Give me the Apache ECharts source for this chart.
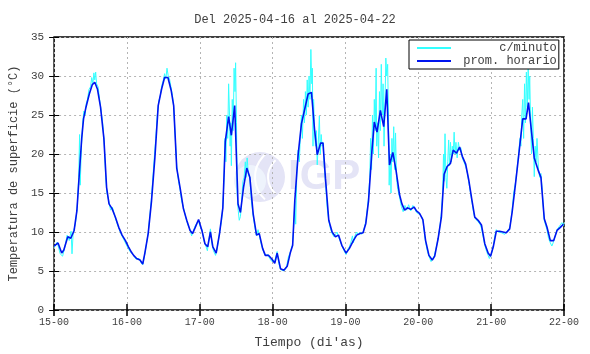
<!DOCTYPE html>
<html lang="es">
<head>
<meta charset="UTF-8">
<title>Temperatura de superficie</title>
<script src="https://cdn.jsdelivr.net/npm/echarts@6/dist/echarts.min.js"></script>
<style>
  html, body { margin: 0; padding: 0; background: #fff; }
  #chart { width: 590px; height: 354px; }
</style>
</head>
<body>
<div id="chart"></div>
<script type="text/javascript">
    // etiquetas del eje x (cada 24 h)
    var diasLabels = ['15-00', '16-00', '17-00', '18-00', '19-00', '20-00', '21-00', '22-00'];
    var yTicks = [0, 5, 10, 15, 20, 25, 30, 35];

    // promedio horario: [hora desde 15-00, temperatura]
    var promHorario = [
        [0, 8.2], [1.3, 8.6], [2.5, 7.3], [3.2, 7.7], [4.5, 9.4], [5.5, 9.2], [6.6, 10.2], [7.5, 12.7],
        [8.3, 17.4], [9.1, 22], [9.7, 24.5], [10.5, 26], [11.6, 27.7], [12.6, 28.9], [13.4, 29.2], [14.3, 28.3],
        [15.3, 26], [16.4, 22], [17.3, 15.7], [18.1, 13.6], [19.1, 13], [20.2, 11.9], [21.3, 10.6], [22.4, 9.6],
        [23.5, 8.9], [24.5, 8.1], [25.5, 7.4], [26.2, 7.0], [27.2, 6.6], [28.3, 6.4], [29.2, 5.9], [29.9, 7.3],
        [31, 9.8], [32.1, 14], [33.2, 19.5], [34.3, 26.2], [35.4, 28.3], [36.4, 29.8], [37.5, 29.8], [38.6, 28.1],
        [39.4, 26.2], [40.4, 18.2], [41.5, 15.7], [42.6, 13], [43.7, 11.5], [44.8, 10.2], [45.6, 9.8], [46.5, 10.6],
        [47.6, 11.6], [48.7, 10.2], [49.7, 8.5], [50.6, 8.1], [51.5, 10], [52.3, 8.1], [53.4, 7.3], [54.5, 9.8],
        [55.6, 13.1], [56.4, 21.6], [57.5, 24.8], [58.4, 22.4], [59.5, 26.2], [60.6, 13.6], [61.4, 12.5], [62.4, 15.7],
        [63.5, 18.2], [64.5, 17], [65.6, 12.3], [66.7, 9.6], [67.6, 9.8], [68.7, 7.9], [69.6, 7.0], [70.7, 7.0],
        [71.8, 6.5], [72.7, 6.0], [73.5, 7.3], [74.6, 5.3], [75.7, 5.1], [76.8, 5.6], [77.8, 7.3], [78.6, 8.3],
        [79.3, 14], [80.4, 19.9], [81.5, 23.9], [82.6, 25.8], [83.7, 27.7], [84.8, 27.9], [85.8, 23.2], [86.7, 19.9],
        [87.8, 21.4], [88.6, 21.4], [89.4, 16.9], [90.5, 11.5], [91.6, 10], [92.7, 9.4], [93.7, 9.6], [94.8, 8.3],
        [96.2, 7.3], [97.3, 7.9], [98.6, 8.9], [99.7, 9.6], [100.8, 9.8], [101.8, 9.9], [102.7, 11.1], [103.6, 14],
        [104.7, 20.3], [105.5, 24.1], [106.4, 22.8], [107.5, 25.6], [108.6, 23.5], [109.6, 28.3], [110.5, 18.6], [111.6, 20.2],
        [112.7, 17.8], [113.8, 14.8], [114.6, 13.6], [115.5, 12.8], [116.4, 13.1], [117.5, 12.9], [118.6, 13.2], [119.4, 12.7],
        [120.4, 12.4], [121.5, 11.6], [122.4, 8.9], [123.5, 7.0], [124.6, 6.4], [125.4, 6.9], [126.5, 9.1], [127.6, 11.9],
        [128.5, 17.4], [129.5, 18.4], [130.6, 18.8], [131.5, 20.5], [132.6, 20.1], [133.6, 20.9], [134.5, 19.7], [135.6, 18.7],
        [136.6, 16.7], [137.7, 14], [138.6, 11.9], [139.7, 11.5], [140.8, 10.9], [141.9, 8.5], [143, 7.3], [143.8, 6.9],
        [144.7, 8.1], [145.7, 10.1], [146.8, 10.1], [147.9, 10], [149, 9.9], [150.1, 10.4], [150.9, 12.5], [152, 16.1],
        [153.1, 19.9], [154.4, 24.5], [155.5, 24.5], [156.3, 26.6], [157.2, 23.2], [158.2, 19.5], [159.6, 17.8], [160.4, 17],
        [161.5, 11.7], [162.4, 10.6], [163.5, 8.9], [164.6, 8.9], [165.7, 10.2], [166.8, 10.6], [167.8, 11.0], [168, 11.0]
    ];

    // lecturas c/minuto (muestreadas del grafico)
    var cMinuto = [
        [0, 8.0], [1, 8.7], [2, 7.2], [2.8, 6.9], [3.5, 8], [4.3, 9.6], [5, 8.9], [5.6, 10.1], [5.9, 7.2], [6.3, 10],
        [7, 11], [7.6, 13], [8.1, 17], [8.4, 22.5], [8.6, 16], [9, 21], [9.4, 24], [9.8, 25.5], [10.2, 25], [10.6, 26.5],
        [11, 27], [11.5, 28.3], [12, 28.6], [12.4, 29.8], [12.8, 29], [13.1, 30.4], [13.4, 29.5], [13.7, 30.5], [14, 29],
        [14.5, 28.6], [15, 27], [15.5, 25.5], [16, 24], [16.5, 21.5], [17, 17], [17.4, 15], [18, 14], [18.6, 12.8],
        [19.2, 13.2], [20, 12], [21, 10.8], [22, 9.8], [23, 9], [24, 8.2],
        [25, 7.5], [26, 7.1], [27, 6.5], [28, 6.6], [28.6, 6.1], [29.2, 5.8], [30, 7.4], [31, 9.9], [32, 14], [33, 19.5],
        [33.5, 22], [34, 25], [34.5, 26.8], [35, 27.5], [35.5, 28.8], [36, 29.5], [36.4, 30.3], [36.8, 29.6], [37.2, 31],
        [37.6, 30], [38, 29.7], [38.5, 28.6], [39, 27.5], [39.4, 26], [39.8, 23], [40.4, 18.5], [41, 16.5], [41.5, 15.5],
        [42, 14], [42.6, 13.2], [43.3, 12], [44, 11], [44.8, 10.3], [45.3, 9.5], [45.7, 9.9], [46.5, 10.8], [47.6, 11.5], [48, 10.8],
        [48.7, 10.3], [49.5, 8.7], [50, 8.2], [50.5, 7.6], [51, 9], [51.5, 10.4], [52, 8.5], [52.5, 7.6], [53.2, 7],
        [53.8, 8], [54.5, 9.9], [55.2, 11.5], [55.6, 13.5], [56, 17], [56.3, 22], [56.6, 19], [56.9, 25], [57.2, 22],
        [57.5, 29], [57.8, 25], [58, 21], [58.2, 24], [58.4, 18.5], [58.7, 27], [59, 23], [59.3, 31], [59.6, 28],
        [59.8, 31.7], [60.1, 24], [60.3, 15], [60.6, 13], [61, 11.5], [61.4, 12], [61.8, 14], [62.2, 16.5], [62.6, 17],
        [63, 19], [63.3, 17], [63.6, 19.5], [64, 17.5], [64.5, 17], [65, 14], [65.6, 12], [66.2, 10.5], [66.7, 9.5],
        [67.2, 10.3], [67.6, 9.6], [68.2, 8.5], [68.7, 7.8], [69.5, 7], [70.5, 7.1], [71, 6.6], [71.8, 6.2], [72.4, 6.0],
        [72.7, 6.3], [73.5, 7.5], [74, 6], [74.6, 5.2], [75.2, 5.0], [75.7, 5.0], [76.5, 5.4], [77.2, 6.8], [77.8, 7.4],
        [78.5, 8.3], [79, 11], [79.3, 14], [79.6, 11], [80, 18], [80.4, 20.5], [80.8, 19], [81.2, 23], [81.5, 25],
        [81.8, 22], [82.2, 27], [82.5, 24], [82.8, 28], [83.1, 25], [83.4, 29.5], [83.7, 26], [84, 30], [84.3, 27],
        [84.6, 33.4], [84.9, 29], [85.1, 31], [85.3, 21], [85.5, 27], [85.8, 23], [86.1, 21], [86.4, 23], [86.7, 18.6],
        [87, 21], [87.4, 24.9], [87.7, 20], [88, 22.5], [88.3, 21], [88.6, 21.5], [89, 18.5], [89.4, 16.5], [90, 13],
        [90.5, 11.5], [91, 10.5], [91.6, 9.8], [92.2, 9.4], [92.7, 9.2], [93.2, 10], [93.7, 9.4], [94.3, 8.8], [94.8, 8.3],
        [95.5, 7.6], [96.2, 7.1],
        [96.8, 7.8], [97.3, 8.1], [97.8, 8.7], [98.3, 9.5], [98.6, 8.6], [99.2, 9.6], [99.7, 10], [100.3, 9.6], [100.8, 10],
        [101.3, 9.7], [101.8, 10], [102.3, 10.7], [102.7, 11.3], [103.2, 13], [103.6, 14.5], [104, 17], [104.3, 22],
        [104.6, 18], [104.9, 25], [105.2, 20], [105.5, 27], [105.8, 23], [106.1, 31], [106.3, 21], [106.6, 24],
        [106.9, 19.5], [107.2, 28], [107.5, 23], [107.8, 31.5], [108.1, 25], [108.4, 29], [108.7, 21], [109, 26],
        [109.3, 32.3], [109.6, 30], [109.9, 31.5], [110.2, 24], [110.4, 16], [110.7, 20], [111, 15], [111.3, 22],
        [111.6, 19], [111.9, 23.5], [112.2, 18], [112.5, 22.7], [112.8, 17], [113.2, 15.5], [113.8, 14.5], [114.4, 13.3],
        [115, 12.6], [115.6, 13.4], [116.2, 12.8], [116.8, 13.5], [117.5, 12.7], [118.2, 13.4], [118.8, 13], [119.4, 12.5], [120, 12.6],
        [120.6, 12.2], [121.2, 11.9], [121.6, 11.3], [122.1, 9.5], [122.5, 8.5], [123, 7.5], [123.6, 6.8], [124.2, 6.2],
        [124.7, 6.3], [125.3, 7], [126, 8.2], [126.6, 9.3], [127.2, 11], [127.6, 12.5], [128, 15], [128.3, 20], [128.5, 16.5],
        [128.8, 22.6], [129.1, 17], [129.4, 15.6], [129.7, 19], [130, 21.8], [130.3, 18.5], [130.6, 21.5], [130.9, 19],
        [131.2, 21], [131.5, 20], [131.8, 22.8], [132.1, 20], [132.4, 21.5], [132.8, 19.5], [133.2, 21.5], [133.6, 20.5],
        [134, 20.8], [134.5, 19.5], [135, 19], [135.6, 18.4], [136.2, 17.5], [136.6, 16.5], [137.2, 15], [137.7, 13.8],
        [138.2, 12.5], [138.6, 11.8], [139.2, 11.6], [139.7, 11.3], [140.3, 11], [140.8, 10.5], [141.4, 9.3], [141.9, 8.3],
        [142.5, 7.5], [143, 7], [143.4, 6.6], [143.8, 6.9],
        [144.3, 7.5], [144.7, 8.2], [145.2, 9.5], [145.7, 10.3], [146.3, 10], [146.8, 10.2], [147.4, 9.9], [147.9, 10.1],
        [148.5, 9.7], [149, 10], [149.5, 10.2], [150.1, 10.5], [150.5, 11.5], [150.9, 12.8], [151.4, 15], [152, 16.3],
        [152.5, 18], [153.1, 20.3], [153.5, 22], [153.8, 21], [154.1, 25], [154.4, 27], [154.7, 22], [155, 29], [155.3, 24],
        [155.6, 30.5], [155.9, 26], [156.2, 31], [156.5, 27], [156.7, 30], [157, 24], [157.3, 20], [157.6, 26], [157.9, 22],
        [158.2, 17.1], [158.5, 21], [158.8, 19], [159.1, 22], [159.6, 18], [160, 17], [160.4, 17.5], [160.8, 15.5],
        [161.2, 13], [161.5, 11.5], [162, 10.8], [162.4, 10.3], [162.9, 9.2], [163.5, 8.6], [164, 8.2], [164.6, 8.8],
        [165.1, 9.5], [165.7, 10.3], [166.3, 10.5], [166.8, 10.9], [167.3, 11.2], [167.8, 10.8], [168, 11.2]
    ];

    var mono = 'Liberation Mono';
    var txt = '#404040';

    var myChart = echarts.init(document.getElementById('chart'));

    var option = {
        animation: false,
        title: {
            text: 'Del 2025-04-16 al 2025-04-22',
            left: 'center',
            top: 9,
            textStyle: { fontFamily: mono, fontSize: 12, fontWeight: 'normal', color: txt }
        },
        grid: {
            left: 46, right: 26, top: 37, bottom: 40,
            show: true, borderColor: '#000', borderWidth: 1.5, backgroundColor: 'transparent'
        },
        legend: {
            orient: 'vertical',
            left: 409, top: 40,
            padding: [2, 2, 2, 8],
            itemGap: 1,
            itemWidth: 34, itemHeight: 2,
            icon: 'rect',
            borderColor: '#000', borderWidth: 1,
            backgroundColor: '#fff',
            formatter: function (name) { return name.padStart(14); },
            textStyle: { fontFamily: mono, fontSize: 12, color: txt },
            data: ['c/minuto', 'prom. horario']
        },
        graphic: [
            // marca de agua IGP
            { type: 'circle', z: -1, shape: { cx: 260, cy: 177, r: 25 }, style: { fill: '#e4e4f6' } },
            { type: 'circle', z: -1, shape: { cx: 250, cy: 181, r: 16 }, style: { fill: '#eef3fc' } },
            { type: 'arc', z: -1, shape: { cx: 285, cy: 177, r: 30, startAngle: 2.3, endAngle: 4.0 }, style: { stroke: '#fff', lineWidth: 2, fill: null } },
            { type: 'arc', z: -1, shape: { cx: 290, cy: 177, r: 22, startAngle: 2.3, endAngle: 4.0 }, style: { stroke: '#fff', lineWidth: 2, fill: null } },
            { type: 'text', z: -1, left: 288, top: 156, style: { text: 'IGP', font: 'bold 42px Liberation Sans', fill: '#e4e4f6' } }
        ],
        xAxis: [{
            type: 'value', min: 0, max: 168, interval: 24,
            name: 'Tiempo (di\'as)', nameLocation: 'middle', nameGap: 26,
            nameTextStyle: { fontFamily: mono, fontSize: 13, color: txt },
            axisLine: { show: false },
            axisTick: { inside: true, length: 6, lineStyle: { color: '#000', width: 1.5 } },
            axisLabel: {
                margin: 7, fontFamily: mono, fontSize: 10, color: txt,
                formatter: function (v) { return diasLabels[Math.round(v / 24)]; }
            },
            splitLine: { show: true, lineStyle: { color: '#b4b4b4', type: [2, 3], width: 1 } }
        }, {
            type: 'value', min: 0, max: 168, interval: 24, position: 'top',
            axisLine: { show: false },
            axisTick: { inside: true, length: 6, lineStyle: { color: '#000', width: 1.5 } },
            axisLabel: { show: false },
            splitLine: { show: false }
        }],
        yAxis: [{
            type: 'value', min: yTicks[0], max: yTicks[yTicks.length - 1], interval: 5,
            name: 'Temperatura de superficie (°C)', nameLocation: 'middle', nameGap: 30,
            nameTextStyle: { fontFamily: mono, fontSize: 12, color: txt },
            axisLine: { show: false },
            axisTick: { inside: true, length: 5, lineStyle: { color: '#000', width: 1 } },
            axisLabel: { margin: 10, fontFamily: mono, fontSize: 11, color: txt },
            splitLine: { show: true, lineStyle: { color: '#b4b4b4', type: [2, 3], width: 1 } }
        }, {
            type: 'value', min: yTicks[0], max: yTicks[yTicks.length - 1], interval: 5, position: 'right',
            axisLine: { show: false },
            axisTick: { inside: true, length: 5, lineStyle: { color: '#000', width: 1 } },
            axisLabel: { show: false },
            splitLine: { show: false }
        }],
        series: [{
            name: 'c/minuto',
            type: 'line',
            data: cMinuto,
            showSymbol: false,
            z: 2,
            color: '#33ffff',
            lineStyle: { color: '#33ffff', width: 1 }
        }, {
            name: 'prom. horario',
            type: 'line',
            data: promHorario,
            showSymbol: false,
            z: 3,
            color: '#0014f0',
            lineStyle: { color: '#0014f0', width: 1.6 }
        }]
    };

    myChart.setOption(option);
</script>
</body>
</html>
